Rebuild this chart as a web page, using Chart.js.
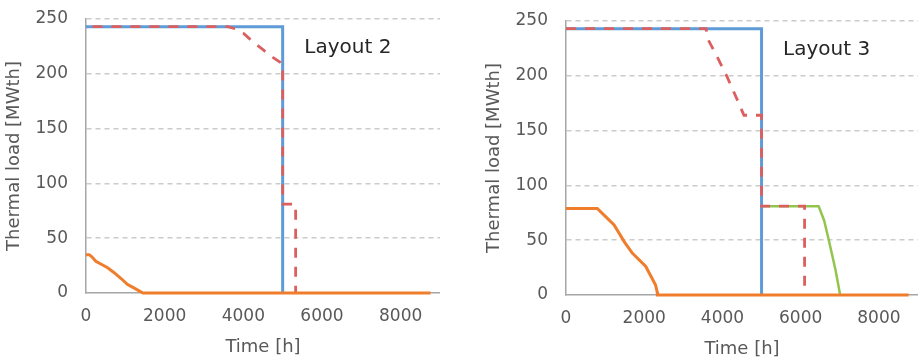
<!DOCTYPE html>
<html>
<head>
<meta charset="utf-8">
<title>Thermal load – Layout 2 and Layout 3</title>
<script src="https://cdn.jsdelivr.net/npm/chart.js@4/dist/chart.umd.min.js"></script>
<style>
  html, body { margin: 0; padding: 0; background: #ffffff; overflow: hidden; }
  body { width: 920px; height: 362px; position: relative; }
  canvas { position: absolute; }
  #layout2 { left: 0; top: 0; }
  #layout3 { left: 480px; top: 2px; }
</style>
</head>
<body>
<canvas id="layout2" width="440" height="362"></canvas>
<canvas id="layout3" width="438" height="362"></canvas>
<script>
// Axis ticks
const X_TICKS = [0, 2000, 4000, 6000, 8000];
const Y_TICKS = [0, 50, 100, 150, 200, 250];
const X_MAX = 9000;

// Layout 2 – load duration curves [h, MWth]
const L2_BLUE_X   = [0, 5000, 5000];
const L2_BLUE_Y   = [243, 243, 0];
const L2_RED_X    = [0, 3600, 3800, 4000, 4250, 4500, 4750, 5000, 5000, 5330, 5330];
const L2_RED_Y    = [243, 243, 241, 237, 229, 222, 215, 209, 81, 81, 0];
const L2_ORANGE_X = [0, 80, 150, 250, 400, 550, 700, 900, 1050, 1250, 1450, 8760];
const L2_ORANGE_Y = [35, 35, 33, 29, 26, 23, 19, 13, 8, 4, 0, 0];

// Layout 3 – load duration curves [h, MWth]
const L3_BLUE_X   = [0, 5000, 5000];
const L3_BLUE_Y   = [243, 243, 0];
const L3_RED_X    = [0, 3580, 3620, 3870, 4120, 4380, 4550, 5000, 5000, 6100, 6100];
const L3_RED_Y    = [243, 243, 234, 217, 199, 178, 164, 164, 81, 81, 0];
const L3_GREEN_X  = [5000, 6460, 6600, 6720, 6890, 7010];
const L3_GREEN_Y  = [81, 81, 68, 50, 23, 0];
const L3_ORANGE_X = [0, 800, 1000, 1230, 1500, 1700, 2040, 2290, 2330, 2340, 8760];
const L3_ORANGE_Y = [79, 79, 72, 64, 48, 38, 26, 9, 3, 0, 0];

const COLORS = { blue: '#5f9bd6', red: '#dc5f5f', orange: '#ef7d2c', green: '#92c54e' };
const FONT = '"DejaVu Sans", "Liberation Sans", Arial, sans-serif';
const TEXT = '#595959';

function points(xs, ys) {
  return xs.map((x, i) => ({ x: x, y: ys[i] }));
}

function series(xs, ys, color, opts) {
  return Object.assign({
    data: points(xs, ys),
    showLine: true,
    borderColor: color,
    backgroundColor: color,
    borderWidth: 3,
    pointRadius: 0,
    pointHoverRadius: 0,
    tension: 0,
    fill: false,
    clip: false
  }, opts || {});
}

// Writes the layout name inside the plot, anchored on data coordinates
const layoutName = {
  id: 'layoutName',
  afterDatasetsDraw(chart, args, opts) {
    const { ctx, scales } = chart;
    ctx.save();
    ctx.font = '20px ' + FONT;
    ctx.fillStyle = '#262626';
    ctx.textAlign = 'left';
    ctx.textBaseline = 'alphabetic';
    ctx.fillText(opts.text, scales.x.getPixelForValue(opts.x), scales.y.getPixelForValue(opts.y));
    ctx.restore();
  }
};

// Fixed axis boxes so both panels share the same plot geometry
function fixX(s) {
  s.height = 69;
  s.paddingLeft = 0; s.paddingRight = 0;
}
function fixY(s) {
  s.width = 86;
  s.paddingTop = 0; s.paddingBottom = 0;
}

function makeChart(id, datasets, name) {
  return new Chart(document.getElementById(id), {
    type: 'scatter',
    data: { datasets: datasets },
    plugins: [layoutName],
    options: {
      responsive: false,
      animation: false,
      events: [],
      layout: { padding: { top: 19, right: 0, bottom: 0, left: 0 } },
      plugins: {
        legend: { display: false },
        tooltip: { enabled: false },
        layoutName: { text: name, x: 5550, y: 219 }
      },
      scales: {
        x: {
          type: 'linear',
          min: 0,
          max: X_MAX,
          afterFit: fixX,
          afterBuildTicks: s => { s.ticks = X_TICKS.map(v => ({ value: v })); },
          ticks: {
            includeBounds: false,
            padding: 13,
            color: TEXT,
            font: { family: FONT, size: 17 },
            maxRotation: 0,
            callback: v => String(v)
          },
          grid: { display: false, drawTicks: false },
          border: { display: true, color: '#a6a6a6', width: 1.5 },
          title: {
            display: true,
            text: 'Time [h]',
            color: TEXT,
            font: { family: FONT, size: 18 },
            padding: { top: 4, bottom: 4 }
          }
        },
        y: {
          type: 'linear',
          min: 0,
          max: 250,
          afterFit: fixY,
          afterBuildTicks: s => { s.ticks = Y_TICKS.map(v => ({ value: v })); },
          ticks: {
            padding: 18,
            color: TEXT,
            font: { family: FONT, size: 17 },
            callback: v => String(v)
          },
          grid: {
            drawTicks: false,
            lineWidth: 1.5,
            color: c => (c.tick && c.tick.value === 0) ? 'rgba(0,0,0,0)' : '#cbcbcb',
            borderDash: [5, 4]
          },
          border: { display: true, color: '#a6a6a6', width: 1.5, dash: [5, 4] },
          title: {
            display: true,
            text: 'Thermal load [MWth]',
            color: TEXT,
            font: { family: FONT, size: 18 },
            padding: { top: 4, bottom: 4 }
          }
        }
      }
    }
  });
}

makeChart('layout2', [
  series(L2_ORANGE_X, L2_ORANGE_Y, COLORS.orange, { order: 0 }),
  series(L2_RED_X, L2_RED_Y, COLORS.red, { order: 1, borderDash: [10, 9], borderDashOffset: 12.6, borderWidth: 2.8 }),
  series(L2_BLUE_X, L2_BLUE_Y, COLORS.blue, { order: 2 })
], 'Layout 2');

makeChart('layout3', [
  series(L3_ORANGE_X, L3_ORANGE_Y, COLORS.orange, { order: 0 }),
  series(L3_RED_X, L3_RED_Y, COLORS.red, { order: 1, borderDash: [10, 9], borderWidth: 2.8 }),
  series(L3_BLUE_X, L3_BLUE_Y, COLORS.blue, { order: 2 }),
  series(L3_GREEN_X, L3_GREEN_Y, COLORS.green, { order: 3, borderWidth: 2.5 })
], 'Layout 3');
</script>
</body>
</html>
